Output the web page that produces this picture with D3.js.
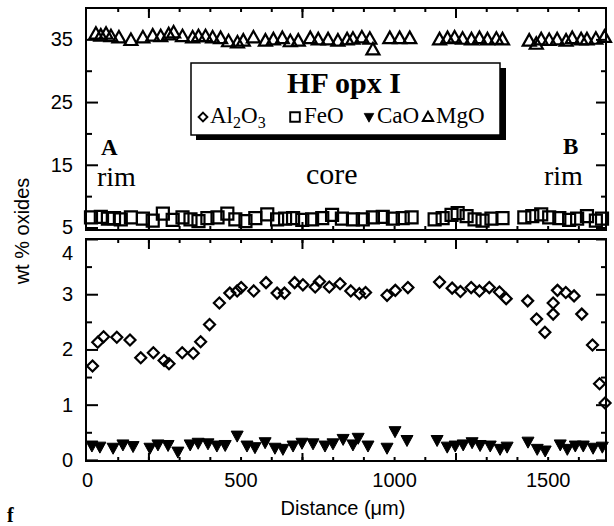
<!DOCTYPE html>
<html>
<head>
<meta charset="utf-8">
<script src="https://cdn.jsdelivr.net/npm/d3@7"></script>
<style>
  body { margin: 0; background: #fff; }
  svg { display: block; }
  .tick text { font-family: "Liberation Sans", Arial, sans-serif; font-size: 20px; fill: #000; }
  .tick line { stroke: #000; stroke-width: 2; }
  .serif { font-family: "Liberation Serif", "Times New Roman", serif; fill: #000; }
</style>
</head>
<body>
<svg id="chart"></svg>
<script>
const width = 614;
const height = 526;

// distance (um), wt %
const al2o3 = [[18,1.70],[35,2.13],[54,2.23],[97,2.22],[140,2.17],[175,1.85],[216,1.94],[251,1.80],[267,1.74],
  [310,1.94],[346,1.93],[370,2.14],[399,2.45],[431,2.84],[465,3.02],[489,3.06],[502,3.12],[543,3.06],[583,3.21],
  [619,3.02],[643,3.02],[676,3.21],[703,3.17],[743,3.13],[757,3.23],[789,3.13],[824,3.19],[859,3.06],[887,3.01],
  [907,3.03],[977,2.98],[1004,3.07],[1045,3.12],[1148,3.22],[1189,3.11],[1216,3.05],[1251,3.12],[1278,3.06],
  [1310,3.12],[1343,3.04],[1365,2.92],[1435,2.88],[1464,2.55],[1491,2.31],[1518,2.84],[1518,2.64],[1532,3.07],
  [1559,3.03],[1586,2.97],[1611,2.64],[1646,2.08],[1669,1.38],[1687,1.03]];

const cao = [[16,0.26],[42,0.24],[85,0.22],[117,0.28],[150,0.25],[205,0.22],[231,0.28],[264,0.27],[296,0.15],
  [336,0.28],[362,0.31],[394,0.30],[423,0.26],[450,0.27],[489,0.44],[521,0.26],[547,0.23],[580,0.32],[612,0.22],
  [638,0.20],[671,0.26],[700,0.31],[736,0.30],[775,0.26],[801,0.30],[834,0.38],[866,0.28],[883,0.40],[915,0.26],
  [977,0.22],[1003,0.52],[1042,0.36],[1140,0.36],[1173,0.24],[1199,0.26],[1225,0.28],[1254,0.32],[1280,0.27],
  [1313,0.26],[1345,0.20],[1368,0.24],[1436,0.33],[1466,0.20],[1492,0.17],[1541,0.28],[1564,0.20],[1590,0.26],
  [1616,0.26],[1648,0.22],[1678,0.24]];

const feo = [[13,6.6],[45,6.7],[68,6.4],[88,6.5],[110,6.3],[143,6.6],[182,6.4],[214,6.1],[247,7.2],[279,6.2],
  [311,6.6],[337,6.3],[363,6.0],[392,6.5],[425,6.6],[457,7.2],[483,6.3],[516,6.0],[548,6.5],[587,7.1],[619,6.3],
  [645,6.4],[671,6.5],[701,6.2],[733,6.3],[766,6.5],[798,7.0],[830,6.4],[866,6.3],[898,6.3],[931,6.6],[963,6.7],
  [996,6.4],[1028,6.5],[1057,6.6],[1132,6.3],[1158,6.5],[1187,7.0],[1207,7.3],[1236,6.8],[1262,6.3],[1288,6.1],
  [1317,6.4],[1353,6.5],[1424,6.6],[1450,6.8],[1479,7.1],[1505,6.6],[1538,6.5],[1570,6.2],[1596,6.4],[1628,6.8],
  [1657,6.1],[1677,6.4]];

const mgo = [[29,35.9],[45,35.6],[62,35.9],[78,35.5],[104,35.3],[143,34.9],[182,35.3],[214,35.6],[240,35.5],
  [266,35.8],[282,36.1],[311,35.5],[344,35.3],[363,35.5],[386,35.5],[409,35.3],[435,35.2],[461,34.7],[490,34.5],
  [509,34.8],[542,35.3],[581,34.8],[607,35.0],[636,35.2],[662,34.7],[688,34.8],[727,35.2],[753,35.0],[785,35.0],
  [817,34.8],[847,35.0],[866,35.1],[895,35.3],[921,35.1],[931,33.4],[986,35.2],[1018,35.2],[1051,35.2],
  [1148,35.0],[1174,35.2],[1197,35.3],[1223,35.1],[1252,35.0],[1278,35.2],[1304,35.0],[1333,35.1],[1353,35.0],
  [1440,34.8],[1463,34.3],[1479,35.0],[1505,34.9],[1531,35.0],[1560,34.8],[1580,35.2],[1609,35.0],[1628,35.0],
  [1657,35.1],[1685,35.4]];

const xTicks = [0, 500, 1000, 1500];
const xMinorTicks = d3.range(100, 1700, 100);
const xLongTicks = [200, 700, 1200];
const topTicks = [5, 15, 25, 35];
const topMinorTicks = [10, 20, 30];
const botTicks = [0, 1, 2, 3, 4];
const botMinorTicks = [0.5, 1.5, 2.5, 3.5];

const svg = d3.select("#chart")
    .attr("width", width)
    .attr("height", height);

const x = d3.scaleLinear().domain([0, 1690]).range([87, 606]);
const yTop = d3.scaleLinear().domain([4.6, 40]).range([230, 8]);
const yBot = d3.scaleLinear().domain([-0.02, 4]).range([461, 239]);

const left = 86, right = 606;
const plain = d => String(d);

// marker shapes
const diamond = "M0,-5.5L5.5,0L0,5.5L-5.5,0Z";
const square = "M-6,-6H6V6H-6Z";
const triUp = "M0,-6.5L6.5,5L-6.5,5Z";
const triDown = "M-6,-4.5L6,-4.5L0,6.5Z";

function drawPanel(y, major, minor, top, bottom) {
    // frame
    svg.append("rect")
        .attr("x", left).attr("y", top)
        .attr("width", right - left).attr("height", bottom - top)
        .attr("fill", "none").attr("stroke", "#000").attr("stroke-width", 2);

    const g = svg.append("g");
    g.append("g").attr("transform", `translate(${left},0)`)
        .call(d3.axisLeft(y).tickValues(major).tickSize(-12).tickPadding(13).tickFormat(plain))
        .call(s => s.select(".domain").remove());
    g.append("g").attr("transform", `translate(${left},0)`)
        .call(d3.axisLeft(y).tickValues(minor).tickSize(-6).tickFormat(""))
        .call(s => s.select(".domain").remove());
    g.append("g").attr("transform", `translate(${right},0)`)
        .call(d3.axisRight(y).tickValues(major).tickSize(-10).tickFormat(""))
        .call(s => s.select(".domain").remove());
    g.append("g").attr("transform", `translate(${right},0)`)
        .call(d3.axisRight(y).tickValues(minor).tickSize(-5).tickFormat(""))
        .call(s => s.select(".domain").remove());

    g.append("g").attr("transform", `translate(0,${top})`)
        .call(d3.axisTop(x).tickValues(xMinorTicks).tickSize(-4).tickFormat(""))
        .call(s => s.select(".domain").remove());
    g.append("g").attr("transform", `translate(0,${top})`)
        .call(d3.axisTop(x).tickValues(xLongTicks).tickSize(-10).tickFormat(""))
        .call(s => s.select(".domain").remove());
    g.append("g").attr("transform", `translate(0,${bottom})`)
        .call(d3.axisBottom(x).tickValues(xMinorTicks).tickSize(-4).tickFormat(""))
        .call(s => s.select(".domain").remove());
    g.append("g").attr("transform", `translate(0,${bottom})`)
        .call(d3.axisBottom(x).tickValues(xLongTicks).tickSize(-8).tickFormat(""))
        .call(s => s.select(".domain").remove());
    return g;
}

drawPanel(yTop, topTicks, topMinorTicks, 8, 230);
const bot = drawPanel(yBot, botTicks, botMinorTicks, 239, 461);
// the "4" label sits lower than its tick
bot.selectAll(".tick text").filter(d => d === 4).attr("dy", "1.0em");

// x labels
svg.append("g").attr("transform", "translate(0,461)")
    .call(d3.axisBottom(x).tickValues(xTicks).tickSize(0).tickPadding(12).tickFormat(plain))
    .call(s => s.select(".domain").remove());

function drawPoints(data, y, shape, filled) {
    svg.append("g").selectAll("path")
        .data(data)
        .join("path")
        .attr("d", shape)
        .attr("transform", d => `translate(${x(d[0])},${y(d[1])})`)
        .attr("fill", filled ? "#000" : "none")
        .attr("stroke", "#000")
        .attr("stroke-width", filled ? 1 : 2.2);
}

drawPoints(mgo, yTop, triUp, false);
drawPoints(feo, yTop, square, false);
drawPoints(al2o3, yBot, diamond, false);
drawPoints(cao, yBot, triDown, true);

// axis titles
svg.append("text")
    .attr("transform", "translate(29,231) rotate(-90)")
    .attr("text-anchor", "middle")
    .style("font-family", "'Liberation Sans', Arial, sans-serif")
    .style("font-size", "20px")
    .text("wt % oxides");

svg.append("text")
    .attr("x", 343).attr("y", 515)
    .attr("text-anchor", "middle")
    .style("font-family", "'Liberation Sans', Arial, sans-serif")
    .style("font-size", "20px")
    .text("Distance (\u03bcm)");

svg.append("text").attr("class", "serif")
    .attr("x", 7).attr("y", 522)
    .style("font-size", "20px").style("font-weight", "bold")
    .text("f");

// annotations
const notes = [
    {t: "A", x: 101, y: 155, bold: true, size: 23},
    {t: "rim", x: 97, y: 186, bold: false, size: 28},
    {t: "core", x: 306, y: 184, bold: false, size: 30},
    {t: "B", x: 563, y: 154, bold: true, size: 23},
    {t: "rim", x: 544, y: 185, bold: false, size: 28}
];
svg.append("g").selectAll("text")
    .data(notes)
    .join("text")
    .attr("class", "serif")
    .attr("x", d => d.x).attr("y", d => d.y)
    .style("font-size", d => d.size + "px")
    .style("font-weight", d => d.bold ? "bold" : "normal")
    .text(d => d.t);

// legend box
const legend = svg.append("g");
legend.append("rect")
    .attr("x", 196).attr("y", 68).attr("width", 310).attr("height", 72)
    .attr("fill", "#000");
legend.append("rect")
    .attr("x", 191).attr("y", 63).attr("width", 309).attr("height", 72)
    .attr("fill", "#fff").attr("stroke", "#000").attr("stroke-width", 1.5);
legend.append("text").attr("class", "serif")
    .attr("x", 344).attr("y", 93)
    .attr("text-anchor", "middle")
    .style("font-size", "30px").style("font-weight", "bold")
    .text("HF opx I");

const legendItems = [
    {shape: diamond, filled: false, mx: 203, tx: 210, label: [["Al", 0], ["2", 1], ["O", 0], ["3", 1]]},
    {shape: square, filled: false, mx: 295, tx: 304, label: [["FeO", 0]]},
    {shape: triDown, filled: true, mx: 369, tx: 377, label: [["CaO", 0]]},
    {shape: triUp, filled: false, mx: 428, tx: 436, label: [["MgO", 0]]}
];
legendItems.forEach(it => {
    legend.append("path")
        .attr("d", it.shape)
        .attr("transform", `translate(${it.mx},117) scale(0.8)`)
        .attr("fill", it.filled ? "#000" : "none")
        .attr("stroke", "#000")
        .attr("stroke-width", it.filled ? 1 : 2.4);
    const t = legend.append("text").attr("class", "serif")
        .attr("x", it.tx).attr("y", 123)
        .style("font-size", "23px");
    it.label.forEach(([s, sub]) => {
        t.append("tspan")
            .attr("dy", sub ? 5 : (s === "O" ? -5 : 0))
            .style("font-size", sub ? "16px" : "23px")
            .text(s);
    });
});
</script>
</body>
</html>
